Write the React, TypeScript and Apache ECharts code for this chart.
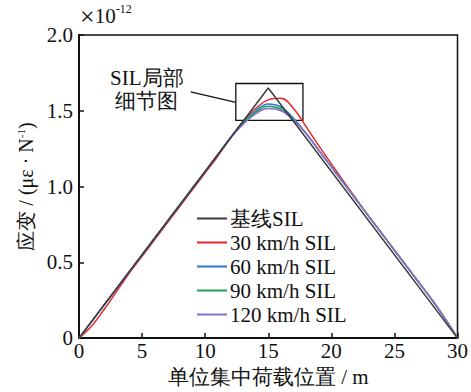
import React, { useEffect, useRef } from "react";
import * as echarts from "echarts";

const xPos = [0, 1, 2, 3, 4, 5, 6, 7, 8, 9, 10, 11, 12, 13, 14, 15, 16, 17, 18, 19, 20, 21, 22, 23, 24, 25, 26, 27, 28, 29, 30];
const baseX = [0, 15, 30];
const baseY = [0, 1.65, 0];
const s30 = [0, 0.08, 0.19, 0.31, 0.43, 0.54, 0.65, 0.76, 0.87, 0.98, 1.09, 1.2, 1.32, 1.43, 1.515, 1.572, 1.582, 1.515, 1.395, 1.27, 1.15, 1.03, 0.915, 0.8, 0.69, 0.58, 0.47, 0.36, 0.25, 0.13, 0];
const s60 = [0, 0.11, 0.22, 0.33, 0.44, 0.55, 0.66, 0.77, 0.88, 0.99, 1.1, 1.21, 1.32, 1.42, 1.5, 1.545, 1.525, 1.45, 1.35, 1.24, 1.13, 1.02, 0.91, 0.8, 0.69, 0.58, 0.47, 0.36, 0.25, 0.13, 0];
const s90 = [0, 0.11, 0.22, 0.33, 0.44, 0.55, 0.66, 0.77, 0.88, 0.99, 1.1, 1.21, 1.32, 1.42, 1.49, 1.53, 1.51, 1.44, 1.35, 1.24, 1.13, 1.02, 0.91, 0.8, 0.69, 0.58, 0.47, 0.36, 0.25, 0.13, 0];
const s120 = [0, 0.11, 0.22, 0.33, 0.44, 0.55, 0.66, 0.77, 0.88, 0.99, 1.1, 1.21, 1.32, 1.41, 1.48, 1.515, 1.5, 1.44, 1.35, 1.24, 1.13, 1.02, 0.91, 0.8, 0.69, 0.58, 0.47, 0.36, 0.25, 0.13, 0];
const names = ["基线SIL", "30 km/h SIL", "60 km/h SIL", "90 km/h SIL", "120 km/h SIL"];
const colors = ["#3a3a3a", "#e8262b", "#2a78c6", "#1f9e5a", "#8a6fcf"];
const detailBox = [[12.43, 1.436], [17.75, 1.68]];
const arrowFrom = [12.43, 1.555];
const arrowTo = [8.85, 1.625];

const FONT = "Liberation Serif, serif";

export default function App() {
  const ref = useRef<HTMLDivElement>(null);
  useEffect(() => {
    if (!ref.current) return;
    const chart = echarts.init(ref.current, null, { renderer: "svg" });
    const pair = (xs: number[], ys: number[]) => xs.map((x, i) => [x, ys[i]]);
    const curves = [s30, s60, s90, s120];
    const series: any[] = [
      {
        name: names[0],
        type: "line",
        data: pair(baseX, baseY),
        symbol: "none",
        lineStyle: { color: colors[0], width: 1.5 },
        itemStyle: { color: colors[0] },
        z: 5,
        markArea: {
          silent: true,
          itemStyle: { color: "rgba(0,0,0,0)", borderColor: "#111", borderWidth: 1.3 },
          data: [[{ coord: detailBox[0] }, { coord: detailBox[1] }]],
        },
        markLine: {
          silent: true,
          symbol: ["none", "arrow"],
          symbolSize: [0, 11],
          label: { show: false },
          lineStyle: { color: "#111", width: 1.3, type: "solid" },
          data: [[{ coord: arrowFrom }, { coord: arrowTo }]],
        },
      },
      ...curves.map((c, i) => ({
        name: names[i + 1],
        type: "line",
        data: pair(xPos, c),
        symbol: "none",
        smooth: 0.4,
        lineStyle: { color: colors[i + 1], width: 1.5 },
        itemStyle: { color: colors[i + 1] },
      })),
    ];
    chart.setOption({
      animation: false,
      textStyle: { fontFamily: FONT },
      grid: { left: 79, right: 13, top: 35, bottom: 52, show: true, borderColor: "#111", borderWidth: 1.5, backgroundColor: "transparent" },
      xAxis: {
        type: "value",
        min: 0,
        max: 30,
        interval: 5,
        axisLine: { lineStyle: { color: "#111", width: 2 } },
        axisTick: { inside: true, length: 5, lineStyle: { color: "#111", width: 1.5 } },
        splitLine: { show: false },
        axisLabel: { color: "#111", fontSize: 21, fontFamily: FONT, margin: 2 },
        name: "单位集中荷载位置 / m",
        nameLocation: "middle",
        nameGap: 27,
        nameTextStyle: { color: "#111", fontSize: 21, fontFamily: FONT },
      },
      yAxis: {
        type: "value",
        min: 0,
        max: 2,
        interval: 0.5,
        axisLine: { show: true, lineStyle: { color: "#111", width: 2 } },
        axisTick: { show: true, inside: true, length: 5, lineStyle: { color: "#111", width: 1.5 } },
        splitLine: { show: false },
        axisLabel: {
          color: "#111",
          fontSize: 21,
          fontFamily: FONT,
          margin: 6,
          formatter: (v: number) => (v === 0 ? "0" : v.toFixed(1)),
        },
        name: "{a|应变 / (με · N}{s|-1}{a|)}",
        nameLocation: "middle",
        nameGap: 41,
        nameRotate: 90,
        nameTextStyle: {
          color: "#111",
          rich: {
            a: { fontSize: 20, fontFamily: FONT, color: "#111" },
            s: { fontSize: 11, fontFamily: FONT, color: "#111", verticalAlign: "top", padding: [0, 0, 10, 0] },
          },
        },
      },
      legend: {
        orient: "vertical",
        left: 192,
        top: 203,
        itemWidth: 30,
        itemHeight: 2,
        itemGap: 3,
        icon: "rect",
        data: names.map((n, i) => ({ name: n, itemStyle: { color: colors[i] } })),
        textStyle: { fontSize: 21, fontFamily: FONT, color: "#111", padding: [0, 0, 0, -2] },
      },
      graphic: [
        {
          type: "text",
          left: 80,
          top: 3,
          style: {
            text: "{x|×}{b|10}{s|-12}",
            rich: {
              x: { fontSize: 26, fontFamily: FONT, fill: "#111" },
              b: { fontSize: 21, fontFamily: FONT, fill: "#111" },
              s: { fontSize: 12, fontFamily: FONT, fill: "#111", verticalAlign: "top", padding: [0, 0, 12, 0] },
            },
          },
        },
        {
          type: "text",
          left: 110,
          top: 66,
          style: {
            text: "SIL局部\n 细节图",
            fontSize: 21,
            lineHeight: 23,
            fontFamily: FONT,
            fill: "#111",
          },
        },
      ],
      series,
    });
    return () => chart.dispose();
  }, []);
  return <div ref={ref} style={{ width: 471, height: 392, position: "absolute", left: 0, top: 0 }} />;
}
